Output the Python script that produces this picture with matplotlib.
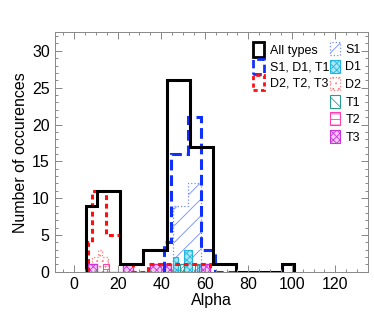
import numpy as np
import matplotlib
matplotlib.use("Agg")
import matplotlib.pyplot as plt
from matplotlib.patches import Patch
from matplotlib.ticker import MultipleLocator

plt.rcParams['font.family'] = ['Liberation Sans', 'DejaVu Sans']
plt.rcParams['hatch.linewidth'] = 0.6

# histogram outlines (bin edges)
all_edges = [5.2, 10.5, 21.0, 31.7, 42.5, 53.3, 63.8, 74.5, 85.0, 95.5, 100.9]
all_counts = [9, 11, 1, 3, 26, 17, 1, 0, 0, 1]

sdt1_edges = [41.3, 44.7, 52.3, 58.1, 64.5, 73.7]
sdt1_counts = [4, 16, 21, 3, 0]

dtt2_edges = [6.3, 8.4, 14.5, 21.0, 27.1, 33.9, 62.2]
dtt2_counts = [4, 11, 5, 1, 0, 1]

# individual types
s1_edges = [42.5, 45.5, 52.3, 58.1]
s1_counts = [1, 9, 12]
s1b_edges = [96.0, 100.9]
s1b_counts = [1]

d1_left = [45.6, 50.6, 56.5]
d1_right = [47.6, 54.3, 61.5]
d1_counts = [2, 3, 1]

d2_edges = [8.0, 10.8, 13.0, 15.6]
d2_counts = [2, 3, 2]

t1_left = [48.5, 55.5, 59.0]
t1_right = [50.5, 57.5, 61.0]
t1_counts = [1, 1, 1]

t2_left = [8.0, 13.3]
t2_right = [10.3, 15.8]
t2_counts = [1, 1]

t3_edges = [6.4, 10.3, 22.5, 27.1, 34.7, 44.5, 58.4, 62.2]
t3_counts = [1, 0, 1, 0, 1, 0, 1]

c_s1 = '#6f8cff'
c_d1 = '#22b5e0'
c_d2 = '#ff7a7a'
c_t1 = '#2a9a90'
c_t2 = '#ff3fb0'
c_t3 = '#cc33dd'
c_blue = '#1030ff'
c_red = '#ff1010'

fig = plt.figure(figsize=(3.74, 3.15), dpi=100)
ax = fig.add_axes([0.146, 0.137, 0.838, 0.76])

# small hatched type histograms
ax.stairs(s1_counts, s1_edges, fill=True, facecolor='none', edgecolor=c_s1,
          hatch='//', linestyle=':', linewidth=0.9)
ax.stairs(s1b_counts, s1b_edges, fill=True, facecolor='none', edgecolor=c_s1,
          hatch='//', linestyle=':', linewidth=0.9)
ax.stairs(d2_counts, d2_edges, fill=True, facecolor='none', edgecolor=c_d2,
          hatch='...', linestyle=':', linewidth=0.9)
w = np.array(d1_right) - np.array(d1_left)
ax.bar(d1_left, d1_counts, width=w, align='edge', facecolor='#a5e8f8',
       edgecolor=c_d1, hatch='xxxxx', linewidth=0.8)
w = np.array(t1_right) - np.array(t1_left)
ax.bar(t1_left, t1_counts, width=w, align='edge', facecolor='none',
       edgecolor=c_t1, hatch='\\\\\\', linewidth=0.8)
w = np.array(t2_right) - np.array(t2_left)
ax.bar(t2_left, t2_counts, width=w, align='edge', facecolor='none',
       edgecolor=c_t2, hatch='---', linewidth=0.8)
ax.stairs(t3_counts, t3_edges, fill=True, facecolor='#f0c8f5', edgecolor=c_t3,
          hatch='xxxxx', linewidth=0.8)
ax.stairs(t3_counts, t3_edges, color=c_t3, linewidth=0.9)

# main outlines
ax.stairs(dtt2_counts, dtt2_edges, color=c_red, linewidth=2.2,
          linestyle=(0, (1.6, 1.2)))
ax.stairs(sdt1_counts, sdt1_edges, color=c_blue, linewidth=2.2,
          linestyle=(0, (3.5, 1.6)))
ax.stairs(all_counts, all_edges, color='black', linewidth=2.2)

ax.set_xlim(-9, 135)
ax.set_ylim(0, 32.5)
ax.xaxis.set_major_locator(MultipleLocator(20))
ax.xaxis.set_minor_locator(MultipleLocator(5))
ax.yaxis.set_major_locator(MultipleLocator(5))
ax.yaxis.set_minor_locator(MultipleLocator(1))
ax.tick_params(which='both', direction='in', top=True, right=True,
               color='#888888', labelsize=11.5, width=0.7)
ax.tick_params(which='major', length=5)
ax.tick_params(which='minor', length=2.5)
for sp in ax.spines.values():
    sp.set_color('#888888')
    sp.set_linewidth(0.7)

ax.set_xlabel('Alpha', fontsize=11.5, labelpad=1)
ax.set_ylabel('Number of occurences', fontsize=11.5, labelpad=3)

h1 = [Patch(facecolor='none', edgecolor='black', linewidth=2),
      Patch(facecolor='none', edgecolor=c_blue, linewidth=2, linestyle=(0, (3, 1.5))),
      Patch(facecolor='none', edgecolor=c_red, linewidth=2, linestyle=(0, (1.5, 1.2)))]
leg1 = ax.legend(h1, ['All types', 'S1, D1, T1', 'D2, T2, T3'],
                 loc='upper left', bbox_to_anchor=(0.632, 0.96), frameon=False,
                 fontsize=9, handlelength=0.9, handleheight=1.5,
                 labelspacing=0.1, handletextpad=0.45, borderpad=0,
                 borderaxespad=0)
ax.add_artist(leg1)

h2 = [Patch(facecolor='none', edgecolor=c_s1, hatch='//', linestyle=':', linewidth=0.9),
      Patch(facecolor='#a5e8f8', edgecolor=c_d1, hatch='xxxxx', linewidth=0.8),
      Patch(facecolor='none', edgecolor=c_d2, hatch='...', linestyle=':', linewidth=0.9),
      Patch(facecolor='none', edgecolor=c_t1, hatch='\\\\\\', linewidth=0.8),
      Patch(facecolor='none', edgecolor=c_t2, hatch='---', linewidth=0.8),
      Patch(facecolor='#f0c8f5', edgecolor=c_t3, hatch='xxxxx', linewidth=0.8)]
ax.legend(h2, ['S1', 'D1', 'D2', 'T1', 'T2', 'T3'],
          loc='upper left', bbox_to_anchor=(0.88, 0.96), frameon=False,
          fontsize=9, handlelength=0.75, handleheight=1.25,
          labelspacing=0.3, handletextpad=0.45, borderpad=0,
          borderaxespad=0)

fig.savefig('out.png', dpi=100)
